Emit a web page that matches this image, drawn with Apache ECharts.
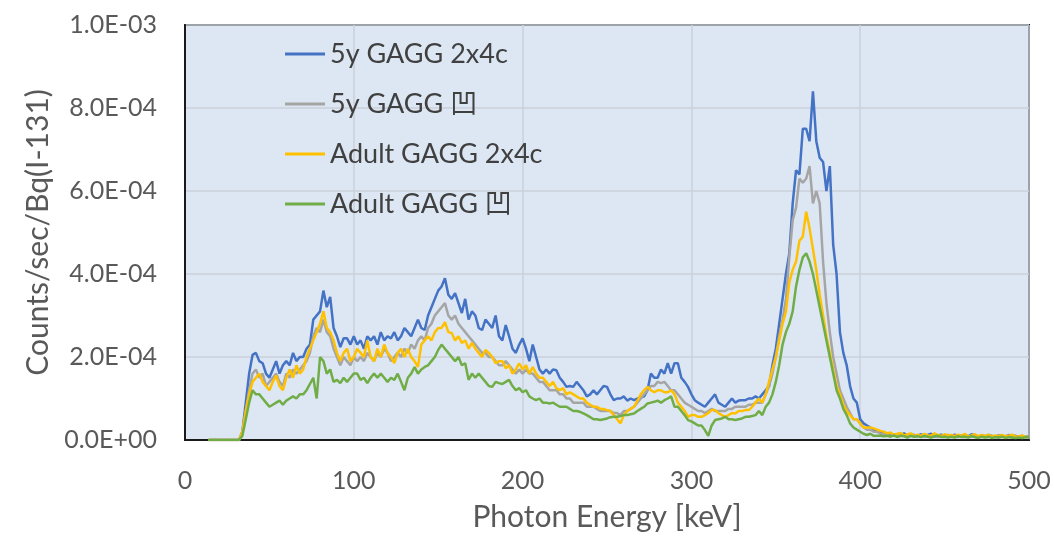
<!DOCTYPE html>
<html>
<head>
<meta charset="utf-8">
<script src="https://cdn.jsdelivr.net/npm/echarts@6/dist/echarts.min.js"></script>
<style>
  html, body { margin: 0; padding: 0; background: #ffffff; }
  #chart { width: 1054px; height: 538px; }
</style>
</head>
<body>
<div id="chart"></div>
<script>
// Energy bins: 2 keV steps from 14 keV to 500 keV
const E_START = 14, E_STEP = 2, E_END = 500;
const energy = [];
for (let e = E_START; e <= E_END; e += E_STEP) energy.push(e);

// Count rates in units of 1e-5 counts/sec/Bq (I-131); each row covers 20 keV
const UNIT = 1e-5;
const seriesNames = ['5y GAGG 2x4c', '5y GAGG 凹', 'Adult GAGG 2x4c', 'Adult GAGG 凹'];
const seriesColors = ['#4472c4', '#a5a5a5', '#ffc000', '#70ad47'];

const child2x4c = [
  0, 0, 0, 0, 0, 0, 0, 0, 0, 0,                         // 14
  2, 9, 16, 20.5, 21, 19, 18.5, 16, 15, 17,             // 34
  19, 16, 18, 19, 18, 21, 19, 20, 20, 22,               // 54
  23, 29, 30, 31, 36, 32, 34.5, 27, 25, 22.4,           // 74
  24.5, 24.5, 23, 25, 23, 24, 22, 25, 24, 25,           // 94
  23, 26, 24, 25, 24.5, 26, 24, 25, 27, 26,             // 114
  25, 27, 29, 27, 26.5, 30, 32, 34, 36, 37,             // 134
  39, 35, 34, 35.4, 33, 30.6, 34, 29, 31, 30,           // 154
  27, 26.5, 29, 28, 27, 30, 25, 24, 27.7, 25,           // 174
  22, 21, 23, 24.5, 22, 19, 23, 20, 17, 16,             // 194
  17, 16, 17, 16.8, 15, 14, 12.8, 13, 12.8, 14,         // 214
  13, 12, 10.5, 11, 12, 11, 12, 13, 12.8, 11,           // 234
  9.6, 10, 10, 10.5, 9.5, 10, 9.6, 10, 10.2, 10.5,      // 254
  12, 16, 15, 15, 17, 16, 18.5, 16, 18.5, 18.5,         // 274
  15, 14, 12.8, 11, 9.6, 9, 8.5, 8, 9, 10,              // 294
  11, 9, 8.5, 8, 9, 10, 9, 9.5, 9.6, 9.6,               // 314
  10, 10, 10.5, 10, 11, 12, 13, 18, 22, 28,             // 334
  34, 40, 45, 57, 65, 64, 75, 75, 72, 84,               // 354
  72, 68, 67, 60, 66, 47, 40, 26, 21, 18,               // 374
  13, 10, 9, 5, 4, 3.5, 3, 2.5, 2, 2,                   // 394
  1.6, 1.2, 1.5, 1, 1.4, 1.1, 1.6, 1, 1.3, 1.2,         // 414
  1, 1.4, 0.9, 1.2, 1.5, 0.8, 1.1, 1.3, 0.9, 1.2,       // 434
  1, 1.3, 0.8, 1.1, 1.2, 0.9, 1.4, 1, 0.8, 1.1,         // 454
  0.9, 1.2, 1, 0.7, 1.1, 1, 0.8, 1.2, 0.9, 1,           // 474
  0.8, 1, 0.7, 0.9                                      // 494
];

const childConcave = [
  0, 0, 0, 0, 0, 0, 0, 0, 0, 0,
  2, 7, 12, 16, 17, 15, 16, 13, 14, 15,
  16, 14, 13, 16, 15, 17, 16, 17, 18, 19,
  21, 25, 27, 26, 29, 26, 25, 22, 20, 18,
  20, 19, 18, 20, 19, 20, 19, 21, 20, 19,
  21, 20, 22, 21, 19, 20, 21, 20, 22, 21,
  23, 22, 24, 25, 24, 27, 28, 30, 31, 32,
  33, 30, 29, 30, 28, 27, 26, 25, 24, 23,
  22, 21, 21, 20, 20, 19, 18, 18, 19, 18,
  17, 16, 17, 16, 17, 16, 16, 15, 14, 14,
  13, 12, 12, 12, 11, 11, 10, 10, 9, 9,
  9, 9, 8, 8, 8, 7.5, 7, 7, 7, 7,
  6.5, 6.5, 6, 7, 7, 7.5, 8, 9, 10, 11,
  12, 13, 13, 14, 13.7, 14, 13, 12, 12, 11,
  10, 9, 8.5, 8, 7.5, 7, 7, 6.5, 7, 7.5,
  7, 7, 7, 7, 7.5, 7.5, 8, 8, 8, 8,
  8.5, 8.5, 9, 9, 9, 11, 13, 16, 20, 25,
  29, 34, 44, 53, 56, 63, 62, 63, 66, 57,
  60, 57, 43, 33, 26, 20, 16, 12, 10, 8,
  6.5, 5, 5, 4, 3, 2.5, 2.5, 2, 2, 1.5,
  1.4, 1.2, 1, 1.3, 0.9, 1.2, 1, 1.3, 1, 0.8,
  1, 1.2, 0.8, 1, 0.9, 1.1, 0.7, 1, 0.9, 0.8,
  0.9, 1, 0.7, 0.9, 1, 0.8, 1, 0.7, 0.9, 0.8,
  0.8, 0.7, 0.9, 0.8, 0.6, 0.9, 0.7, 0.8, 0.6, 0.7,
  0.7, 0.6, 0.8, 0.6
];

const adult2x4c = [
  0, 0, 0, 0, 0, 0, 0, 0, 0, 0,
  2, 7, 11, 14, 15, 16, 14, 13, 12, 14,
  15.5, 13, 12, 15, 17, 15, 18, 16, 17, 20,
  22, 24, 26, 28, 31, 27, 26, 24, 21, 19,
  21, 22, 19, 20, 22, 21, 20, 24, 20, 19,
  22, 20, 23, 21, 20, 18.5, 21, 22, 20, 22,
  20, 19, 17.6, 23, 24, 25, 24, 26, 27, 27,
  28.4, 26, 25.8, 24, 25, 23.4, 24, 22, 23.4, 22,
  21, 20, 21.7, 21, 20, 18.5, 19, 19, 17.3, 18,
  16, 17, 18.5, 17, 18, 16, 17.6, 16, 15, 15,
  14, 13, 14, 12.5, 12, 12.5, 11, 11.5, 11, 10.5,
  10, 10, 9, 8.5, 8, 8, 7.5, 7.5, 7.2, 7,
  6, 5, 4, 6, 7, 7.5, 8, 9.5, 11, 12,
  12.8, 12, 11.5, 12, 12, 11.5, 11.5, 12, 11, 9,
  8, 7, 5.6, 6, 6, 5.6, 5.6, 6, 6.5, 7.2,
  7.2, 6.5, 6, 5.6, 6, 6.5, 6.4, 7, 7, 7.2,
  7.2, 8, 9, 10, 9, 11, 14, 17, 20, 24,
  28, 31, 38, 41, 43, 48, 49, 55, 51, 46,
  41, 35, 30, 25, 21, 17, 13, 11, 8.5, 7,
  6, 5, 5, 4, 3, 3, 3, 2.8, 2.5, 2.2,
  2, 1.6, 1.8, 1.2, 1.5, 1.7, 1.1, 1.4, 1.6, 1,
  1.3, 0.9, 1.5, 1.1, 1, 1.6, 1.2, 0.9, 1.4, 1.1,
  1.2, 0.9, 1.3, 1, 1.5, 0.8, 1.1, 1.4, 0.9, 1.2,
  1, 1.3, 0.8, 1.1, 0.9, 1.2, 0.9, 1, 1.3, 0.8,
  0.9, 1.1, 0.7, 0.8
];

const adultConcave = [
  0, 0, 0, 0, 0, 0, 0, 0, 0, 0,
  1, 5, 9, 12, 11, 11, 10, 9, 8, 8.5,
  9, 9.5, 8.5, 9.5, 10, 10.5, 10, 11, 11, 12,
  13.5, 15, 10, 20, 19, 16, 17, 14, 14.5, 13.7,
  15, 14, 15, 16, 16, 14.5, 15, 13.7, 15, 16,
  15, 16, 15, 14, 15, 14.5, 16, 14, 12, 15,
  16, 17.6, 16, 17, 17.6, 18, 19, 20, 21.7, 23,
  22, 21, 20, 19, 20, 18, 18.5, 14.5, 16, 15,
  16, 15, 14, 13, 12.8, 14, 13.7, 13.5, 14, 14.5,
  13, 12, 12.5, 11.5, 12, 10.5, 10, 9.6, 10, 9,
  9, 8.8, 9, 8.5, 8, 8, 8, 7.5, 7, 7,
  6.8, 6.4, 6, 5.5, 5, 5, 4.8, 5, 5.2, 5.5,
  5.6, 5.6, 5.8, 6, 6, 6.2, 6.4, 7, 7.5, 8,
  8.8, 9, 9.2, 9.5, 9, 9.6, 10, 10.5, 8, 8,
  7, 6, 4.8, 4.5, 4, 3.5, 3.5, 2.4, 1, 3.5,
  4.8, 5, 5.2, 5.6, 5, 5, 4.8, 5, 5.2, 5.6,
  5.6, 5.8, 6, 7, 6, 8, 9, 11, 14, 18,
  23, 26, 28, 31, 37, 41, 44, 45, 43, 40,
  36, 32, 28, 24, 20, 16, 12, 10, 7.5, 6,
  4, 3, 2.5, 2, 1.5, 1.2, 1.5, 1, 1, 1,
  0.9, 1, 0.8, 1.1, 0.7, 1, 0.9, 0.6, 1, 0.8,
  0.9, 0.7, 1, 0.8, 0.6, 0.9, 1, 0.7, 0.8, 0.6,
  0.8, 0.6, 0.9, 0.7, 0.8, 0.6, 0.9, 0.7, 0.5, 0.8,
  0.6, 0.8, 0.5, 0.7, 0.6, 0.8, 0.5, 0.7, 0.6, 0.5,
  0.6, 0.5, 0.7, 0.6
];

// Axis ticks
const xMin = 0, xMax = 500, xInterval = 100;
const yMin = 0, yMax = 100, yInterval = 20;   // in UNIT

// Excel-style scientific label, e.g. 2.0E-04
function sciLabel(v) {
  const x = v * UNIT;
  if (Math.abs(x) < 1e-15) return '0.0E+00';
  const e = Math.floor(Math.log10(x) + 1e-9);
  const m = x / Math.pow(10, e);
  return m.toFixed(1) + 'E' + (e < 0 ? '-' : '+') + String(Math.abs(e)).padStart(2, '0');
}

const allSeries = [child2x4c, childConcave, adult2x4c, adultConcave];
const FONT = "Lato, 'Noto Sans CJK JP', sans-serif";

const chart = echarts.init(document.getElementById('chart'), null, { renderer: 'canvas' });
chart.setOption({
  animation: false,
  backgroundColor: '#ffffff',
  color: seriesColors,
  grid: {
    left: 185, right: 25, top: 25, bottom: 98,
    show: true,
    backgroundColor: '#dde7f3',
    borderColor: '#1a1a1a',
    borderWidth: 2
  },
  legend: {
    orient: 'vertical',
    left: 285, top: 39,
    padding: 0,
    icon: 'rect',
    itemWidth: 40, itemHeight: 3,
    itemGap: 20,
    textStyle: { color: '#404040', fontSize: 27, fontFamily: FONT, lineHeight: 30 },
    data: seriesNames
  },
  xAxis: {
    type: 'value',
    min: xMin, max: xMax, interval: xInterval,
    name: 'Photon Energy [keV]',
    nameLocation: 'middle',
    nameGap: 62,
    nameTextStyle: { color: '#595959', fontSize: 30, fontFamily: FONT },
    axisLine: { show: true, lineStyle: { color: '#1a1a1a', width: 2 } },
    axisTick: { show: false },
    axisLabel: { color: '#595959', fontSize: 25, fontFamily: FONT, margin: 28 },
    splitLine: { show: true, lineStyle: { color: '#cbd1da', width: 1.5 } }
  },
  yAxis: {
    type: 'value',
    min: yMin, max: yMax, interval: yInterval,
    name: 'Counts/sec/Bq(I-131)',
    nameLocation: 'middle',
    nameGap: 128,
    nameTextStyle: { color: '#595959', fontSize: 30, fontFamily: FONT },
    axisLine: { show: true, lineStyle: { color: '#1a1a1a', width: 2 } },
    axisTick: { show: false },
    axisLabel: { color: '#595959', fontSize: 25, fontFamily: FONT, margin: 28, formatter: sciLabel },
    splitLine: { show: true, lineStyle: { color: '#cbd1da', width: 1.5 } }
  },
  series: allSeries.map((vals, k) => ({
    name: seriesNames[k],
    type: 'line',
    showSymbol: false,
    symbol: 'none',
    lineStyle: { width: 2.5, color: seriesColors[k] },
    data: vals.map((v, i) => [energy[i], v])
  }))
});
</script>
</body>
</html>
